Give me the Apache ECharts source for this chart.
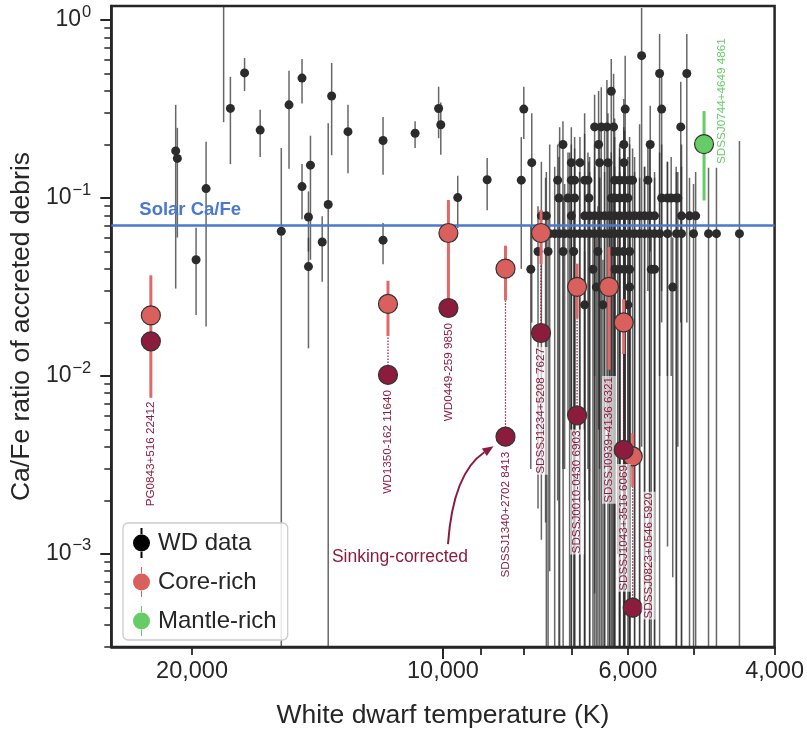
<!DOCTYPE html>
<html>
<head>
<meta charset="utf-8">
<script src="https://cdn.jsdelivr.net/npm/echarts@6/dist/echarts.min.js"></script>
<style>
  html, body { margin: 0; padding: 0; background: #ffffff; }
  #chart { width: 807px; height: 734px; }
</style>
</head>
<body>
<div id="chart"></div>
<script>
// ---------------------------------------------------------------------------
// White dwarf sample: effective temperature (K), Ca/Fe ratio, error-bar ends
// ---------------------------------------------------------------------------
const wdTemp = [
  // hotter, sparsely sampled stars
  20925, 20830, 19780, 19240, 17990, 18330, 17300, 16570, 15630, 15300,
  14760, 14760, 14420, 14500, 14500, 13960, 13730, 13600, 13000, 11800,
  11800, 10800, 10120, 10060, 9600, 8850,
  // cool stars, upper part of the cloud
  5776, 5496, 5098, 6281, 7998, 6044, 5465,
  6577, 6457, 6357, 6241, 5184,
  7178, 6505, 6067, 5640,
  7824, 7014, 6849, 6487, 6339, 6067,
  8054, 7284, 7014, 6950, 6761, 6699, 6223, 6138, 6054, 5971, 5922, 5677,
  7258, 7079, 6950, 6681, 6281, 6223, 6138, 6054, 5999, 5465, 5379, 5323, 5250, 5226,
  7619, 7515, 7014, 6761, 6668, 6577, 6487, 6398, 6310, 6223, 6138, 6054, 5971,
  5889, 5808, 5729, 5650, 5573, 5173, 5060, 4975,
  // cool stars, densest row
  7531, 7446, 7344, 7244, 7145, 7047, 6950, 6855, 6761, 6668, 6577, 6487, 6398,
  6310, 6223, 6138, 6054, 5971, 5889, 5808, 5729, 5650, 5573, 5496, 5377, 5245,
  5173, 5004, 4801, 4697, 4408,
  // cool stars, lower part of the cloud
  7690, 7479, 7175, 6969, 6517, 6258, 6170, 6070, 5971,
  7845, 6607, 6223, 6138, 6054, 5971, 5624, 5573,
  6546, 5971, 5300,
  6761, 6427, 5999
];
const wdRatio = [
  0.184, 0.167, 0.045, 0.113, 0.319, 1.8, 0.505, 0.241, 0.0651, 0.334,
  0.472, 0.116, 0.153, 0.0782, 0.0412, 0.0566, 0.092, 0.3745, 0.236, 0.2105,
  0.058, 0.2313, 0.3187, 0.258, 0.1006, 0.1267,
  0.631, 0.501, 0.501, 0.398, 0.316, 0.316, 0.316,
  0.251, 0.251, 0.251, 0.251, 0.251,
  0.200, 0.200, 0.200, 0.200,
  0.158, 0.158, 0.158, 0.158, 0.158, 0.158,
  0.126, 0.126, 0.126, 0.126, 0.126, 0.126, 0.126, 0.126, 0.126, 0.126, 0.126, 0.126,
  0.100, 0.100, 0.100, 0.100, 0.100, 0.100, 0.100, 0.100, 0.100, 0.100, 0.100, 0.100, 0.100, 0.100,
  0.0794, 0.0794, 0.0794, 0.0794, 0.0794, 0.0794, 0.0794, 0.0794, 0.0794, 0.0794, 0.0794, 0.0794, 0.0794,
  0.0794, 0.0794, 0.0794, 0.0794, 0.0794, 0.0794, 0.0794, 0.0794,
  0.0631, 0.0631, 0.0631, 0.0631, 0.0631, 0.0631, 0.0631, 0.0631, 0.0631, 0.0631, 0.0631, 0.0631, 0.0631,
  0.0631, 0.0631, 0.0631, 0.0631, 0.0631, 0.0631, 0.0631, 0.0631, 0.0631, 0.0631, 0.0631, 0.0631, 0.0631,
  0.0631, 0.0631, 0.0631, 0.0631, 0.0631,
  0.0501, 0.0501, 0.0501, 0.0501, 0.0501, 0.0501, 0.0501, 0.0501, 0.0501,
  0.0398, 0.0398, 0.0398, 0.0398, 0.0398, 0.0398, 0.0398, 0.0398,
  0.0316, 0.0316, 0.0316,
  0.0251, 0.0251, 0.0251
];
const wdLow = [
  0.031, 0.06, 0.022, 0.019, 0.155, 0.267, 0.399, 0.170, 1e-4, 0.146,
  0.34, 0.0759, 0.045, 0.05, 0.0143, 0.0339, 1e-4, 0.174, 0.138, 0.135,
  0.0425, 0.191, 0.217, 0.1752, 0.0679, 0.0855,
  0.004, 0.01, 0.02, 0.003, 0.215, 0.002, 0.03,
  0.01, 1e-4, 0.005, 1e-4, 0.02,
  0.003, 0.005, 1e-4, 0.05,
  0.02, 0.004, 1e-4, 0.003, 1e-4, 0.004,
  0.04, 0.002, 1e-4, 0.005, 1e-4, 0.003, 1e-4, 1e-4, 0.002, 1e-4, 0.003, 0.03,
  1e-4, 0.006, 1e-4, 0.002, 1e-4, 0.004, 1e-4, 1e-4, 0.003, 0.02, 0.01, 0.01, 1e-4, 0.004,
  0.0012, 1e-4, 1e-4, 0.002, 1e-4, 1e-4, 0.005, 1e-4, 1e-4, 0.003, 1e-4, 1e-4, 0.002,
  1e-4, 1e-4, 1e-4, 1e-4, 1e-4, 1e-4, 1e-4, 1e-4,
  0.0015, 0.0008, 1e-4, 1e-4, 0.003, 1e-4, 1e-4, 1e-4, 1e-4, 1e-4, 0.0006, 1e-4, 1e-4,
  1e-4, 1e-4, 1e-4, 0.002, 1e-4, 1e-4, 1e-4, 1e-4, 1e-4, 1e-4, 1e-4, 0.0011, 1e-4,
  1e-4, 1e-4, 1e-4, 1e-4, 1e-4,
  0.0018, 1e-4, 1e-4, 1e-4, 1e-4, 1e-4, 0.001, 1e-4, 1e-4,
  0.003, 1e-4, 1e-4, 0.0015, 1e-4, 1e-4, 1e-4, 0.0009,
  1e-4, 1e-4, 0.00074,
  1e-4, 1e-4, 1e-4
];
const wdHigh = [
  0.334, 0.248, 0.068, 0.207, 0.48, 3.0, 0.612, 0.313, 0.191, 0.52,
  0.605, 0.1555, 0.224, 0.109, 0.0598, 0.0789, 0.263, 0.574, 0.334, 0.285,
  0.0724, 0.27, 0.4223, 0.344, 0.1334, 0.168,
  1.17, 0.836, 0.836, 0.605, 0.422, 0.63, 0.5,
  0.38, 0.42, 0.46, 0.5, 0.45,
  0.27, 0.4, 0.36, 0.33,
  0.3, 0.25, 0.22, 0.26, 0.3, 0.25,
  0.22, 0.2, 0.2, 0.19, 0.23, 0.18, 0.22, 0.2, 0.24, 0.2, 0.19, 0.2,
  0.17, 0.18, 0.15, 0.16, 0.18, 0.15, 0.17, 0.16, 0.17, 0.2, 0.16, 0.17, 0.15, 0.14,
  0.16, 0.14, 0.15, 0.13, 0.14, 0.15, 0.13, 0.14, 0.16, 0.13, 0.14, 0.15, 0.13,
  0.14, 0.13, 0.15, 0.13, 0.14, 0.15, 0.13, 0.14,
  0.13, 0.2, 0.15, 0.25, 0.12, 0.18, 0.22, 0.14, 0.3, 0.17, 0.2, 0.13, 0.24,
  0.16, 0.28, 0.19, 0.14, 0.22, 0.17, 0.26, 0.15, 0.2, 0.13, 0.18, 0.16, 0.14,
  0.2, 0.12, 0.148, 0.148, 0.209,
  0.09, 0.08, 0.1, 0.085, 0.09, 0.1, 0.08, 0.09, 0.085,
  0.07, 0.075, 0.07, 0.08, 0.07, 0.075, 0.065, 0.07,
  0.06, 0.055, 0.06,
  0.05, 0.045, 0.05
];

// ---------------------------------------------------------------------------
// Core-rich polluters (measured and sinking-corrected Ca/Fe)
// ---------------------------------------------------------------------------
const coreName  = ['PG0843+516', 'WD1350-162', 'WD0449-259', 'SDSSJ1340+2702', 'SDSSJ1234+5208',
                   'SDSSJ0010-0430', 'SDSSJ0939+4136', 'SDSSJ1043+3516', 'SDSSJ0823+0546'];
const coreTemp  = [22412, 11640, 9850, 8413, 7627, 6903, 6321, 6069, 5920];
const coreRatio = [0.0219, 0.0254, 0.0636, 0.0401, 0.0636, 0.0317, 0.0317, 0.0200, 0.00353];
const coreLow   = [0.00754, 0.01676, 0.0266, 0.0266, 0.0425, 0.021, 0.01084, 0.0133, 0.00238];
const coreHigh  = [0.0368, 0.0343, 0.0976, 0.054, 0.0858, 0.0428, 0.053, 0.027, 0.00478];
const sinkRatio = [0.01567, 0.01014, 0.0241, 0.00456, 0.01744, 0.0060, null, 0.00384, 0.000499];

// Mantle-rich polluter
const mantleName  = ['SDSSJ0744+4649'];
const mantleTemp  = [4861];
const mantleRatio = [0.201];
const mantleLow   = [0.0969];
const mantleHigh  = [0.308];

// Reference level and axis ticks
const solarCaFe   = 0.0733;
const xTickLabels = [20000, 10000, 6000, 4000];
const xShortTicks = [20000, 9000, 8000, 7000, 6000, 5000, 4000];
const xLongTicks  = [10000];
const yTickLabels = [0.001, 0.01, 0.1, 1];
const yMinorTicks = [];
for (let e = -4; e <= -1; e++) {
  for (let k = 2; k <= 9; k++) yMinorTicks.push(+(k * Math.pow(10, e)).toPrecision(3));
}

// ---------------------------------------------------------------------------
// Styling
// ---------------------------------------------------------------------------
const FONT   = '"Liberation Sans", Arial, Helvetica, sans-serif';
const INK    = '#262626';
const DOT    = '#2b2b2b';
const MAROON = '#8c1c3e';
const CORE   = '#d9605c';
const CORE_BAR = '#e06868';
const GREEN  = '#66cc66';
const SOLAR  = '#4a78d0';

const X_MIN = 4000, X_MAX = 25000;
const Y_MIN = 3e-4, Y_MAX = 1.2;

// distance between a marker and its rotated name label
const labelGap = { 'PG0843+516': 49, 'SDSSJ0939+4136': 79 };

const chart = echarts.init(document.getElementById('chart'), null, { renderer: 'canvas' });

function errorBars(name, rows, color, width, z, dash) {
  return {
    type: 'custom', name: name, data: rows, z: z, clip: true, silent: true,
    xAxisIndex: 0, yAxisIndex: 0,
    encode: { x: 0, y: [1, 2] },
    renderItem: function (params, api) {
      const a = api.coord([api.value(0), api.value(1)]);
      const b = api.coord([api.value(0), api.value(2)]);
      return {
        type: 'line',
        shape: { x1: a[0], y1: a[1], x2: b[0], y2: b[1] },
        style: { stroke: color, lineWidth: width, lineDash: dash || null }
      };
    }
  };
}

function rotatedLabel(text, color, extra) {
  return Object.assign({
    show: true, formatter: text, rotate: 90,
    color: color, fontSize: 11.7, fontFamily: FONT,
    backgroundColor: 'rgba(255,255,255,0.65)', padding: [1, 1]
  }, extra);
}

const wdPoints = wdTemp.map((t, i) => [t, wdRatio[i]]);
const wdRows   = wdTemp.map((t, i) => [t, wdLow[i], wdHigh[i]]);

const coreRows = coreTemp.map((t, i) => [t, coreLow[i], coreHigh[i]]);
const linkRows = [];
coreTemp.forEach((t, i) => {
  if (sinkRatio[i] !== null && sinkRatio[i] < coreLow[i]) linkRows.push([t, sinkRatio[i], coreLow[i]]);
});

const coreItems = coreTemp.map((t, i) => {
  const item = { value: [t, coreRatio[i]], name: coreName[i] };
  if (sinkRatio[i] === null) {
    item.label = rotatedLabel(coreName[i] + ' ' + t, MAROON, {
      position: 'bottom', distance: labelGap[coreName[i]] || 4, align: 'right', verticalAlign: 'middle'
    });
  }
  return item;
});

const sinkItems = [];
coreTemp.forEach((t, i) => {
  if (sinkRatio[i] === null) return;
  const text = coreName[i] + ' ' + t;
  let label;
  if (coreName[i] === 'SDSSJ0823+0546') {
    label = rotatedLabel(text, MAROON, { position: [26, 22], align: 'left', verticalAlign: 'middle' });
  } else {
    label = rotatedLabel(text, MAROON, {
      position: 'bottom', distance: labelGap[coreName[i]] || 4, align: 'right', verticalAlign: 'middle'
    });
  }
  sinkItems.push({ value: [t, sinkRatio[i]], name: coreName[i], label: label });
});

const mantleRows  = mantleTemp.map((t, i) => [t, mantleLow[i], mantleHigh[i]]);
const mantleItems = mantleTemp.map((t, i) => ({
  value: [t, mantleRatio[i]], name: mantleName[i],
  label: rotatedLabel(mantleName[i] + ' ' + t, GREEN, {
    position: [28, 31], align: 'left', verticalAlign: 'middle', backgroundColor: 'transparent'
  })
}));

function powLabel(v) {
  const e = Math.round(Math.log10(v));
  return '{b|10}{s|' + (e < 0 ? '\u2212' + (-e) : e) + '}';
}
function thousands(v) {
  return String(Math.round(v)).replace(/\B(?=(\d{3})+(?!\d))/g, ',');
}

const baseX = { type: 'log', logBase: 10, min: X_MIN, max: X_MAX, inverse: true, gridIndex: 0,
                splitLine: { show: false }, minorTick: { show: false } };
const baseY = { type: 'log', logBase: 10, min: Y_MIN, max: Y_MAX, gridIndex: 0,
                splitLine: { show: false }, minorTick: { show: false } };

const legendIcon = (w) =>
  'path://M' + (8.5 - w / 2) + ',0h' + w + 'v7h-' + w + 'z' +
  'M' + (8.5 - w / 2) + ',23h' + w + 'v7h-' + w + 'z' +
  'M0,15a8.5,8.5 0 1,0 17,0a8.5,8.5 0 1,0 -17,0z';

chart.setOption({
  animation: false,
  backgroundColor: '#ffffff',
  textStyle: { fontFamily: FONT },
  grid: {
    left: 110, right: 31, top: 6, bottom: 81,
    show: true, borderColor: INK, borderWidth: 2.5, backgroundColor: 'transparent'
  },
  xAxis: [
    Object.assign({}, baseX, {
      position: 'bottom',
      name: 'White dwarf temperature (K)', nameLocation: 'middle', nameGap: 55,
      nameTextStyle: { fontSize: 26.5, color: INK, fontFamily: FONT },
      axisLine: { show: true, lineStyle: { color: INK, width: 2.5 } },
      axisTick: { show: true, customValues: xShortTicks, length: 8, lineStyle: { color: INK, width: 1.8 } },
      axisLabel: { show: true, customValues: xTickLabels, formatter: thousands, margin: 13,
                   fontSize: 23.5, color: INK, fontFamily: FONT }
    }),
    Object.assign({}, baseX, {
      position: 'bottom',
      axisLine: { show: false },
      axisTick: { show: true, customValues: xLongTicks, length: 12, lineStyle: { color: INK, width: 2 } },
      axisLabel: { show: false }
    })
  ],
  yAxis: [
    Object.assign({}, baseY, {
      position: 'left',
      name: 'Ca/Fe ratio of accreted debris', nameLocation: 'middle', nameGap: 69,
      nameTextStyle: { fontSize: 26.5, color: INK, fontFamily: FONT },
      axisLine: { show: true, lineStyle: { color: INK, width: 2.5 } },
      axisTick: { show: true, customValues: yTickLabels, length: 11, lineStyle: { color: INK, width: 2 } },
      axisLabel: {
        show: true, customValues: yTickLabels, formatter: powLabel, margin: 20,
        rich: {
          b: { fontSize: 23, color: INK, fontFamily: FONT },
          s: { fontSize: 16.5, color: INK, fontFamily: FONT, padding: [0, 0, 16, 1] }
        }
      }
    }),
    Object.assign({}, baseY, {
      position: 'left', offset: 0,
      axisLine: { show: false },
      axisTick: { show: true, customValues: yMinorTicks, length: 7, lineStyle: { color: INK, width: 1.5 } },
      axisLabel: { show: false }
    })
  ],
  legend: {
    left: 123, top: 523, orient: 'vertical',
    itemWidth: 17, itemHeight: 30, itemGap: 9,
    padding: [5, 11, 4, 10],
    backgroundColor: 'rgba(255,255,255,0.85)', borderColor: '#cccccc', borderWidth: 1.3, borderRadius: 5,
    textStyle: { fontSize: 24, color: INK, fontFamily: FONT, padding: [0, 0, 0, 3] },
    selectedMode: false,
    data: [
      { name: 'WD data', icon: legendIcon(2), itemStyle: { color: '#000000', borderWidth: 0, opacity: 1 } },
      { name: 'Core-rich', icon: legendIcon(1), itemStyle: { color: CORE, borderWidth: 0, opacity: 1 } },
      { name: 'Mantle-rich', icon: legendIcon(1), itemStyle: { color: GREEN, borderWidth: 0, opacity: 1 } }
    ]
  },
  series: [
    errorBars('wd-err', wdRows, 'rgba(45,45,45,0.72)', 1.5, 1),
    {
      type: 'scatter', name: 'WD data', data: wdPoints, z: 2,
      xAxisIndex: 0, yAxisIndex: 0,
      symbol: 'circle', symbolSize: 9, itemStyle: { color: DOT, opacity: 1 }, silent: true
    },
    {
      type: 'line', name: 'solar', data: [], z: 3, silent: true,
      xAxisIndex: 0, yAxisIndex: 0,
      markLine: {
        silent: true, symbol: 'none', animation: false,
        data: [{ yAxis: solarCaFe }],
        lineStyle: { color: SOLAR, width: 2.6, type: 'solid' },
        label: {
          show: true, position: 'insideEndTop', formatter: 'Solar Ca/Fe', distance: 6,
          color: SOLAR, fontWeight: 'bold', fontSize: 18.5, fontFamily: FONT, padding: [0, 0, 0, 22]
        }
      }
    },
    errorBars('core-err', coreRows, CORE_BAR, 3, 4),
    errorBars('sink-link', linkRows, MAROON, 1.2, 4, [1.5, 1.5]),
    errorBars('mantle-err', mantleRows, GREEN, 3, 4),
    {
      type: 'scatter', name: 'Core-rich', data: coreItems, z: 5,
      xAxisIndex: 0, yAxisIndex: 0,
      symbol: 'circle', symbolSize: 19,
      itemStyle: { color: CORE, borderColor: '#333333', borderWidth: 1.2, opacity: 1 }
    },
    {
      type: 'scatter', name: 'Sinking-corrected', data: sinkItems, z: 6,
      xAxisIndex: 0, yAxisIndex: 0,
      symbol: 'circle', symbolSize: 19,
      itemStyle: { color: MAROON, borderColor: '#333333', borderWidth: 1.2, opacity: 1 }
    },
    {
      type: 'scatter', name: 'Mantle-rich', data: mantleItems, z: 5,
      xAxisIndex: 0, yAxisIndex: 0,
      symbol: 'circle', symbolSize: 19,
      itemStyle: { color: GREEN, borderColor: '#333333', borderWidth: 1.2, opacity: 1 }
    }
  ]
});

// Annotation: curved arrow from the caption to the sinking-corrected point of SDSSJ1340+2702
const k = coreName.indexOf('SDSSJ1340+2702');
const p = chart.convertToPixel({ xAxisIndex: 0, yAxisIndex: 0 }, [coreTemp[k], sinkRatio[k]]);
const tip = [p[0] - 12, p[1] + 9.5];
const start = [p[0] - 57.5, p[1] + 107.5];
const ctrl = [p[0] - 52.5, p[1] + 36.5];
const dx = tip[0] - ctrl[0], dy = tip[1] - ctrl[1];
const len = Math.sqrt(dx * dx + dy * dy);
const ux = dx / len, uy = dy / len;
const headL = 11, headW = 4.5;
const base = [tip[0] - ux * headL, tip[1] - uy * headL];
chart.setOption({
  graphic: [
    {
      type: 'bezierCurve', z: 20, silent: true,
      shape: { x1: start[0], y1: start[1], x2: base[0], y2: base[1], cpx1: ctrl[0], cpy1: ctrl[1] },
      style: { stroke: MAROON, lineWidth: 2, fill: null }
    },
    {
      type: 'polygon', z: 20, silent: true,
      shape: { points: [tip, [base[0] - uy * headW, base[1] + ux * headW], [base[0] + uy * headW, base[1] - ux * headW]] },
      style: { fill: MAROON }
    },
    {
      type: 'text', z: 20, silent: true,
      x: p[0] - 105.5, y: p[1] + 120.5,
      style: { text: 'Sinking-corrected', fill: MAROON, fontSize: 17.5, fontFamily: FONT,
               align: 'center', verticalAlign: 'middle' }
    }
  ]
});
</script>
</body>
</html>
